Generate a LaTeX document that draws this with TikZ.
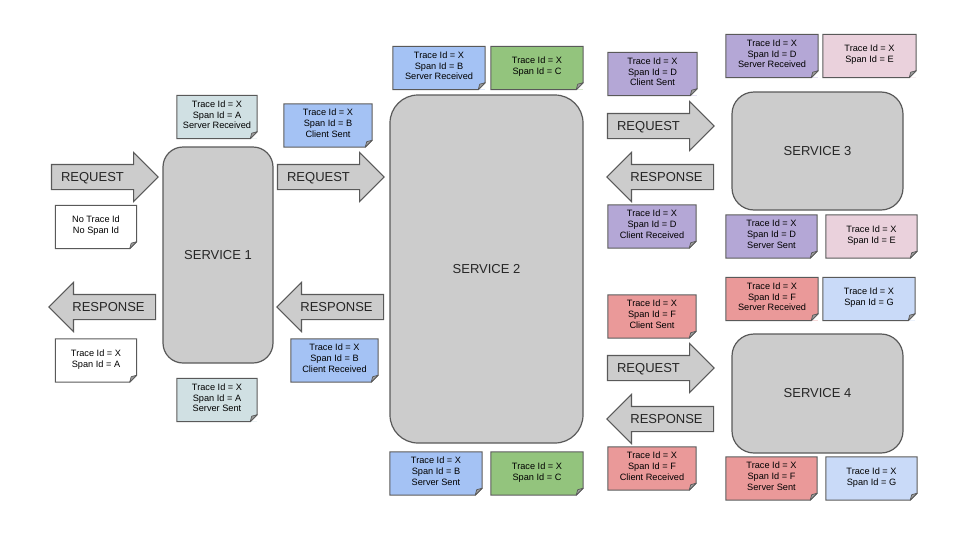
\documentclass[tikz,border=0pt]{standalone}
\usepackage{fontspec}
\setmainfont{Liberation Sans}
\usepackage{tikz}
\usetikzlibrary{shapes.arrows}
\usepackage{xcolor}
\definecolor{srvfill}{HTML}{CCCCCC}
\definecolor{edgegray}{HTML}{595959}
\definecolor{spanA}{HTML}{D0E0E3}
\definecolor{spanB}{HTML}{A4C2F4}
\definecolor{spanC}{HTML}{93C47D}
\definecolor{spanD}{HTML}{B4A7D6}
\definecolor{spanE}{HTML}{EAD1DC}
\definecolor{spanF}{HTML}{EA9999}
\definecolor{spanG}{HTML}{C9DAF8}

\begin{document}
\begin{tikzpicture}[x=1pt,y=-1pt,
  service/.style={draw=edgegray,line width=1.2pt,fill=srvfill,rounded corners=#1,
    font=\fontsize{13}{15}\selectfont,text=black!85},
  note/.style={fill=#1,minimum height=43pt,inner sep=0pt,align=center,
    font=\fontsize{9.2}{10.9}\selectfont,execute at end node={\rule[-4.5pt]{0pt}{4.5pt}}},
  flow/.style={single arrow,draw=edgegray,line width=1.1pt,fill=srvfill,
    text width=93pt,align=center,text height=9.3pt,text depth=0pt,
    inner xsep=0pt,inner ysep=7.35pt,single arrow head extend=12pt,
    font=\fontsize{13}{15}\selectfont,text=black!85},
  request/.style={flow,execute at begin node={\hspace*{-12pt}}},
  response/.style={flow,shape border rotate=180}]
\useasboundingbox (0,0) rectangle (970,536);
% services
\node[service=20pt,minimum width=110pt,minimum height=216pt] (srv1) at (218,255) {SERVICE 1};
\node[service=28pt,minimum width=193pt,minimum height=348pt] (srv2) at (486.5,269) {SERVICE 2};
\node[service=22pt,minimum width=171pt,minimum height=118pt] (srv3) at (817.5,151) {SERVICE 3};
\node[service=22pt,minimum width=171pt,minimum height=119pt] (srv4) at (817.5,393.5) {SERVICE 4};
% request / response arrows
\node[request] (rq1) at (98.5,177) {REQUEST};
\node[request] (rq2) at (324.5,177) {REQUEST};
\node[response] (rs1) at (108.5,307) {RESPONSE};
\node[response] (rs2) at (336.5,307) {RESPONSE};
\node[request] (rq3) at (654.5,126) {REQUEST};
\node[response] (rs3) at (666.5,177) {RESPONSE};
\node[request] (rq4) at (654.5,368) {REQUEST};
\node[response] (rs4) at (666.5,419) {RESPONSE};
% span notes
\node[note=spanA,minimum width=80pt] (srA) at (217,117) {Trace Id = X\\Span Id = A\\Server Received};
\node[note=white,minimum width=81pt] (none) at (96,227) {No Trace Id\\No Span Id};
\node[note=white,minimum width=81pt] (back) at (96,360.5) {Trace Id = X\\Span Id = A};
\node[note=spanA,minimum width=80pt] (ssA) at (217,400) {Trace Id = X\\Span Id = A\\Server Sent};
\node[note=spanB,minimum width=88pt] (csB) at (328,125.5) {Trace Id = X\\Span Id = B\\Client Sent};
\node[note=spanB,minimum width=87pt] (crB) at (334.5,360.5) {Trace Id = X\\Span Id = B\\Client Received};
\node[note=spanB,minimum width=92pt] (srB) at (439,68) {Trace Id = X\\Span Id = B\\Server Received};
\node[note=spanC,minimum width=92pt] (spC1) at (537,68) {Trace Id = X\\Span Id = C};
\node[note=spanB,minimum width=92pt] (ssB) at (436,473.5) {Trace Id = X\\Span Id = B\\Server Sent};
\node[note=spanC,minimum width=92pt] (spC2) at (537,473.5) {Trace Id = X\\Span Id = C};
\node[note=spanD,minimum width=89pt] (csD) at (652.5,74) {Trace Id = X\\Span Id = D\\Client Sent};
\node[note=spanD,minimum width=92pt] (srD) at (772,56) {Trace Id = X\\Span Id = D\\Server Received};
\node[note=spanE,minimum width=93pt] (spE1) at (869.5,56) {Trace Id = X\\Span Id = E};
\node[note=spanD,minimum width=88pt] (crD) at (652,226.5) {Trace Id = X\\Span Id = D\\Client Received};
\node[note=spanD,minimum width=91pt] (ssD) at (771.5,236.5) {Trace Id = X\\Span Id = D\\Server Sent};
\node[note=spanE,minimum width=91pt] (spE2) at (871.5,236.5) {Trace Id = X\\Span Id = E};
\node[note=spanF,minimum width=88pt] (csF) at (652,316.5) {Trace Id = X\\Span Id = F\\Client Sent};
\node[note=spanF,minimum width=92pt] (srF) at (772,299) {Trace Id = X\\Span Id = F\\Server Received};
\node[note=spanG,minimum width=92pt] (spG1) at (869,299) {Trace Id = X\\Span Id = G};
\node[note=spanF,minimum width=88pt] (crF) at (652,468.5) {Trace Id = X\\Span Id = F\\Client Received};
\node[note=spanF,minimum width=91pt] (ssF) at (771.5,478.5) {Trace Id = X\\Span Id = F\\Server Sent};
\node[note=spanG,minimum width=91pt] (spG2) at (871.5,478.5) {Trace Id = X\\Span Id = G};
% outline and folded corner of every note
\foreach \n in {srA,none,back,ssA,csB,crB,srB,spC1,ssB,spC2,csD,srD,spE1,crD,ssD,spE2,csF,srF,spG1,crF,ssF,spG2}{
  \fill[white] ([yshift=7pt]\n.south east) -- (\n.south east) -- ([xshift=-7pt]\n.south east) -- cycle;
  \draw[edgegray,line width=1pt] (\n.north west) -- (\n.north east) -- ([yshift=7pt]\n.south east)
     -- ([xshift=-7pt]\n.south east) -- (\n.south west) -- cycle;
  \filldraw[draw=edgegray,fill=gray!75,line width=0.7pt,line join=round] ([yshift=7pt]\n.south east)
     -- ([xshift=-7pt]\n.south east) -- ([xshift=-5.5pt,yshift=5.5pt]\n.south east) -- cycle;
}
\end{tikzpicture}
\end{document}
